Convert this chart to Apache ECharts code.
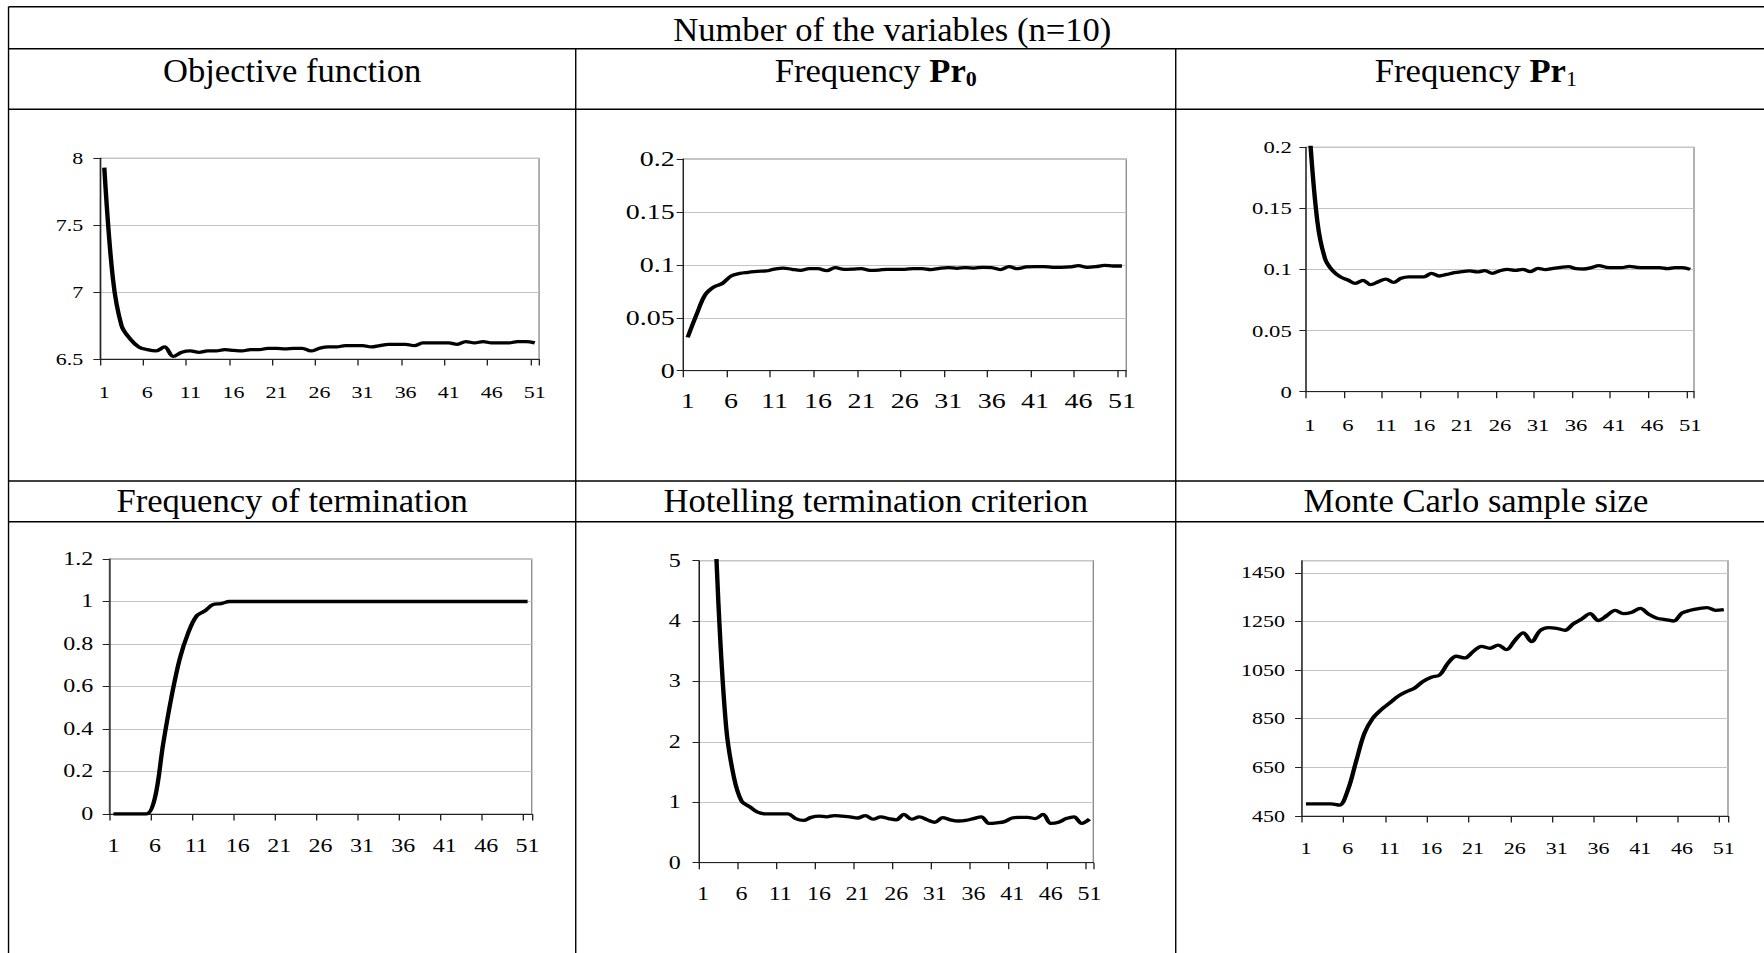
<!DOCTYPE html>
<html>
<head>
<meta charset="utf-8">
<script src="https://cdn.jsdelivr.net/npm/echarts@6/dist/echarts.min.js"></script>
<style>
  html, body { margin: 0; padding: 0; background: #fff; overflow: hidden; }
  #wrap { width: 1764px; height: 953px; overflow: hidden; }
  /* the charts are laid out on a narrower canvas and widened 4:3 */
  #chart { width: 1323px; height: 953px; transform: scaleX(1.3333333); transform-origin: 0 0; }
</style>
</head>
<body>
<div id="wrap"><div id="chart"></div></div>
<script>
// iteration numbers on the horizontal axes
const steps = [1,2,3,4,5,6,7,8,9,10,11,12,13,14,15,16,17,18,19,20,21,22,23,24,25,26,
  27,28,29,30,31,32,33,34,35,36,37,38,39,40,41,42,43,44,45,46,47,48,49,50,51];

const objective = [7.93,7.1,6.75,6.65,6.59,6.57,6.56,6.59,6.52,6.55,6.56,6.55,6.56,6.56,6.57,6.565,
  6.56,6.57,6.57,6.58,6.58,6.575,6.58,6.58,6.56,6.58,6.59,6.59,6.6,6.6,6.6,6.59,6.6,6.61,6.61,6.61,
  6.6,6.62,6.62,6.62,6.62,6.61,6.63,6.62,6.63,6.62,6.62,6.62,6.63,6.63,6.62];

const freqPr0 = [0.0315,0.0526,0.0715,0.079,0.0825,0.0895,0.092,0.093,0.0939,0.0942,0.096,0.097,
  0.0958,0.0948,0.0964,0.0964,0.0945,0.0974,0.0958,0.096,0.0964,0.0948,0.0951,0.0958,0.0958,0.0958,
  0.0964,0.0964,0.0955,0.0967,0.0974,0.0967,0.0974,0.097,0.0977,0.0974,0.0955,0.0983,0.0964,0.098,
  0.0983,0.0983,0.0977,0.0977,0.098,0.0992,0.0977,0.0983,0.0995,0.0989,0.0989];

const freqPr1 = [0.21,0.139,0.109,0.099,0.094,0.0914,0.0887,0.0911,0.0876,0.09,0.0922,0.0895,0.0928,
  0.094,0.094,0.094,0.0969,0.0947,0.096,0.0974,0.0982,0.0988,0.098,0.099,0.0969,0.099,0.1001,0.0993,
  0.1001,0.0982,0.101,0.0999,0.101,0.1018,0.1023,0.1007,0.1004,0.1015,0.1031,0.1018,0.1015,0.1015,
  0.1026,0.1018,0.1015,0.1015,0.1015,0.1007,0.1015,0.1015,0.1001];

const termination = [0,0,0,0,0,0.075,0.33,0.55,0.73,0.85,0.93,0.955,0.985,0.99,1,1,1,1,1,1,1,1,1,1,
  1,1,1,1,1,1,1,1,1,1,1,1,1,1,1,1,1,1,1,1,1,1,1,1,1,1,1];

const hotelling = [12,7.5,4.3,2.25,1.42,1.02,0.93,0.84,0.81,0.81,0.81,0.81,0.73,0.7,0.75,0.77,0.76,
  0.78,0.77,0.76,0.74,0.78,0.72,0.76,0.73,0.71,0.8,0.72,0.76,0.71,0.67,0.745,0.71,0.69,0.7,0.73,0.76,
  0.65,0.66,0.68,0.74,0.75,0.75,0.73,0.8,0.65,0.67,0.73,0.76,0.65,0.72];

const sampleSize = [500,500,500,500,495,555,674,790,852,887,914,942,961,976,1003,1021,1030,1079,1107,
  1100,1126,1148,1140,1153,1134,1172,1203,1167,1212,1225,1222,1214,1241,1260,1282,1254,1274,1296,
  1282,1288,1304,1280,1263,1258,1252,1285,1296,1303,1307,1296,1299];

// y-axis ranges: [min, max, step]
const yRanges = [[6.5, 8, 0.5], [0, 0.2, 0.05], [0, 0.2, 0.05], [0, 1.2, 0.2], [0, 5, 1], [450, 1500, 200]];

const tableTitle = 'Number of the variables (n=10)';
const topHeaders = ['{t|Objective function}', '{t|Frequency }{b|Pr}{sb|0}', '{t|Frequency }{b|Pr}{s|1}'];
const bottomHeaders = ['{t|Frequency of termination}', '{t|Hotelling termination criterion}', '{t|Monte Carlo sample size}'];

const seriesData = [objective, freqPr0, freqPr1, termination, hotelling, sampleSize];

// plot boxes (canvas units) and per-chart text sizing
const boxes = [
  { left: 75,    top: 158.3, width: 329.3, height: 200.7, font: 16.5, ym: 12.5, xm: 24.8 },
  { left: 512.5, top: 159,   width: 332.2, height: 211.7, font: 21,   ym: 6.5,  xm: 19.7 },
  { left: 979.5, top: 147.3, width: 291,   height: 244.4, font: 17,   ym: 10.7, xm: 24.4 },
  { left: 82,    top: 559,   width: 316.8, height: 255,   font: 18,   ym: 12,   xm: 22.7 },
  { left: 524.3, top: 560.7, width: 295.7, height: 302,   font: 18,   ym: 13.7, xm: 22.4 },
  { left: 976.3, top: 560.7, width: 319.7, height: 255.3, font: 16.5, ym: 12.5, xm: 23.5 }
];

const SERIF = 'Liberation Serif, Times New Roman, serif';
const STRETCH = 4 / 3;
const W = 1323;
const colX = [6.4, 431.8, 881.8, 1332];
const rowY = [6.7, 48.7, 109.3, 481, 521.7];

const grids = [], xAxes = [], yAxes = [], series = [];
boxes.forEach((b, k) => {
  grids.push({
    left: b.left, top: b.top, width: b.width, height: b.height,
    show: true, backgroundColor: '#fff', borderColor: '#8a8a8a', borderWidth: 1,
    containLabel: false, outerBoundsMode: 'none'
  });
  xAxes.push({
    type: 'category', gridIndex: k, data: steps, boundaryGap: true,
    axisLine: { show: true, lineStyle: { color: '#222', width: 1 } },
    axisTick: { show: true, interval: 4, length: 6.5, lineStyle: { color: '#222', width: 1 } },
    axisLabel: { interval: 4, margin: b.xm, color: '#000', fontFamily: SERIF, fontSize: b.font },
    splitLine: { show: false }
  });
  const r = yRanges[k];
  yAxes.push({
    type: 'value', gridIndex: k, min: r[0], max: r[1], interval: r[2],
    axisLine: { show: true, lineStyle: { color: '#222', width: 1 } },
    axisTick: { show: true, length: 5, lineStyle: { color: '#222', width: 1 } },
    axisLabel: {
      margin: b.ym, color: '#000', fontFamily: SERIF, fontSize: b.font,
      showMaxLabel: k === 5 ? false : true,
      formatter: v => String(+v.toFixed(4))
    },
    splitLine: { show: true, lineStyle: { color: '#c4c4c4', width: 1 } }
  });
  series.push({
    type: 'line', xAxisIndex: k, yAxisIndex: k, data: seriesData[k],
    showSymbol: false, smooth: 0.35, clip: true,
    lineStyle: { color: '#000', width: 3.3 }
  });
});

// table rules and header texts
const graphics = [];
const hLine = (y, x1, x2) => graphics.push({ type: 'line', shape: { x1, y1: y, x2, y2: y },
  style: { stroke: '#000', lineWidth: 1.4 }, silent: true });
const vLine = (x, y1, y2) => graphics.push({ type: 'line', shape: { x1: x, y1, x2: x, y2 },
  style: { stroke: '#000', lineWidth: 1.05 }, silent: true });
rowY.forEach(y => hLine(y, colX[0], W + 5));
vLine(colX[0], rowY[0], 960);
vLine(colX[1], rowY[1], 960);
vLine(colX[2], rowY[1], 960);

// header cells hold plain (unwidened) text, so undo the 4:3 widening on them
const richStyles = {
  t:  { fontFamily: SERIF, fontSize: 34.6, lineHeight: 40, verticalAlign: 'middle', fill: '#000' },
  b:  { fontFamily: SERIF, fontSize: 34.6, fontWeight: 'bold', lineHeight: 40, verticalAlign: 'middle', fill: '#000' },
  sb: { fontFamily: SERIF, fontSize: 22, fontWeight: 'bold', lineHeight: 22, verticalAlign: 'bottom', fill: '#000' },
  s:  { fontFamily: SERIF, fontSize: 22, lineHeight: 22, verticalAlign: 'bottom', fill: '#000' }
};
const headText = (text, x, y) => graphics.push({
  type: 'text', silent: true, x, y, scaleX: 1 / STRETCH,
  style: { text, x: 0, y: 0, align: 'center', verticalAlign: 'middle', rich: richStyles }
});
headText('{t|' + tableTitle + '}', (colX[0] + colX[3]) / 2, 28.5);
for (let c = 0; c < 3; c++) {
  const cx = (colX[c] + colX[c + 1]) / 2;
  headText(topHeaders[c], cx, 69.5);
  headText(bottomHeaders[c], cx, 499.5);
}

const chart = echarts.init(document.getElementById('chart'), null, { renderer: 'svg', width: 1323, height: 953 });
chart.setOption({
  animation: false,
  backgroundColor: '#fff',
  grid: grids,
  xAxis: xAxes,
  yAxis: yAxes,
  series: series,
  graphic: graphics
});
</script>
</body>
</html>
